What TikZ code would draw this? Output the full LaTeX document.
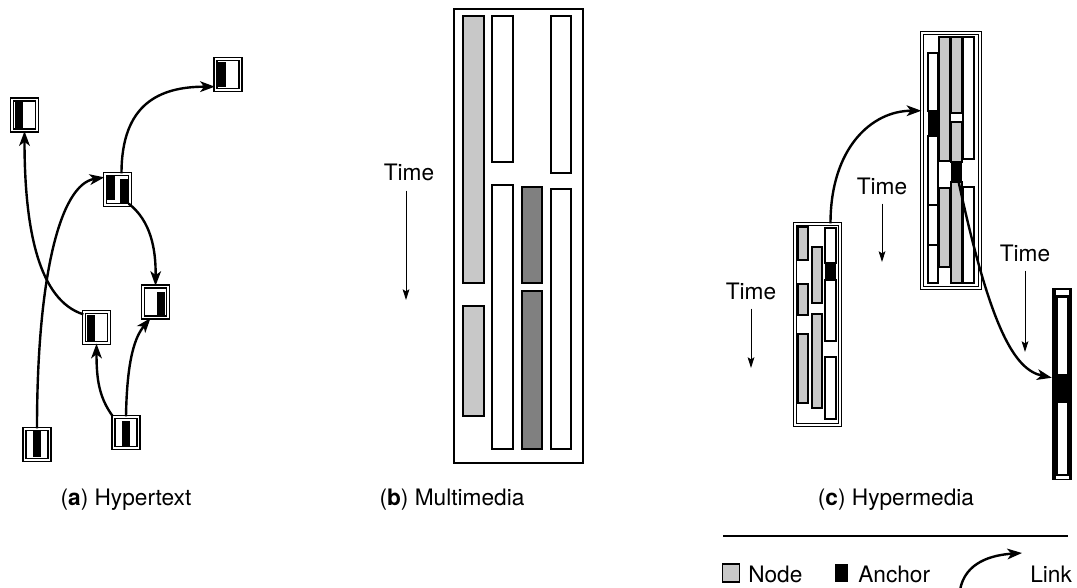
\documentclass[tikz,border=0pt]{standalone}
\usepackage{fontspec}
\setmainfont{TeX Gyre Heros}
\usetikzlibrary{arrows.meta,calc}
\definecolor{lgray}{HTML}{C8C8C8}
\definecolor{dgray}{HTML}{808080}
\begin{document}
\begin{tikzpicture}[x=0.75pt,y=-0.75pt,
  every node/.style={font=\fontsize{17}{20}\selectfont, inner sep=0pt},
  abox/.style={draw, line width=1pt, double, double distance=1.2pt, minimum width=18.75pt, minimum height=23.25pt},
  link/.style={line width=1.8pt, -{Stealth[length=11pt,width=8pt,inset=3pt]}},
  tarrow/.style={line width=0.75pt, -{Stealth[length=8pt,width=5pt,inset=1.5pt]}},
  mbox/.style={draw, line width=1.6pt},
  cbox/.style={draw, line width=1.1pt},
  cframe/.style={draw, line width=1pt, double, double distance=1.2pt}
]
\useasboundingbox (0,0) rectangle (1077,588);

% ---------------- (a) Hypertext ----------------
\node[abox] (A1) at (24.5,115) {};
\node[abox] (A2) at (228,74.5) {};
\node[abox] (A3) at (117.5,189.5) {};
\node[abox] (A4) at (155.5,302) {};
\node[abox] (A5) at (96.5,327.5) {};
\node[abox] (A6) at (37,444.5) {};
\node[abox] (A7) at (126,432.5) {};
\fill (15,102) rectangle (23,128);
\fill (218,62) rectangle (226,87);
\fill (107,176) rectangle (115,200);
\fill (120,179) rectangle (128,204);
\fill (157,292) rectangle (165,316);
\fill (87,315) rectangle (95,341);
\fill (33,431) rectangle (41,457);
\fill (122,421) rectangle (130,447);

\draw[link] (A6.north) .. controls +(0,-149) and +(-45,7) .. ([shift={(0,4)}]A3.north west);
\draw[link] ([shift={(0,3)}]A5.north west) .. controls +(-44,-14) and +(0,100) .. (A1.south);
\draw[link] ([shift={(4,0)}]A3.north) .. controls +(0,-69) and +(-56,0) .. ([shift={(0,-4)}]A2.south west);
\draw[link] ([shift={(-2,-2)}]A3.south east) .. controls +(22,17) and +(0.5,-37) .. (A4.north);
\draw[link] (A7.north west) .. controls +(-14,-19) and +(0,35) .. (A5.south);
\draw[link] (A7.north) .. controls +(1,-59) and +(-15,18) .. ([shift={(-5,0)}]A4.south);

\node (capa) at (126,500) {(\textbf{a}) Hypertext};

% ---------------- (b) Multimedia ----------------
\draw[line width=1.8pt] (454,9) rectangle (583,463);
\draw[mbox, fill=lgray] (463,16) rectangle (484,283);
\draw[mbox, fill=lgray] (463,306) rectangle (484,416);
\draw[mbox] (492,16) rectangle (513,162);
\draw[mbox] (492,185) rectangle (513,449);
\draw[mbox, fill=dgray] (522,187) rectangle (542,283);
\draw[mbox, fill=dgray] (522,291) rectangle (542,449);
\draw[mbox] (551,16) rectangle (571,173);
\draw[mbox] (551,189) rectangle (571,449);

\node (tb) at (409,172) {Time};
\coordinate (tbe) at (406,300);
\draw[tarrow] (tb.south -| tbe) ++(0,10) -- (tbe);

\node (capb) at (452,500) {(\textbf{b}) Multimedia};

% ---------------- (c) Hypermedia ----------------
% C1
\node[cframe, minimum width=33.75pt, minimum height=150.75pt] (c1) at (817.5,324.5) {};
\draw[cbox, fill=lgray] (798,227) rectangle (808,260);
\draw[cbox, fill=lgray] (798,284) rectangle (808,315);
\draw[cbox, fill=lgray] (798,334) rectangle (808,403);
\draw[cbox, fill=lgray] (812,247) rectangle (822,303);
\draw[cbox, fill=lgray] (812,314) rectangle (822,408);
\draw[cbox] (825,228) rectangle (836,263);
\draw[cbox] (825,280) rectangle (836,341);
\draw[cbox] (825,357) rectangle (836,419);
\node[fill=black, minimum width=8.25pt, minimum height=12.75pt] (c1a) at (830.5,271.5) {};

% C2
\node[cframe, minimum width=43.5pt, minimum height=191.25pt] (c2) at (951,160.5) {};
\draw[cbox] (928,53) rectangle (938,111);
\draw[cbox] (928,136) rectangle (938,205);
\draw[cbox] (928,205) rectangle (938,245);
\draw[cbox] (928,245) rectangle (938,283);
\node[fill=black, minimum width=7.5pt, minimum height=18.75pt] (c2a1) at (933,123.5) {};
\draw[cbox, fill=lgray] (939,37) rectangle (950,161);
\draw[cbox, fill=lgray] (939,188) rectangle (950,267);
\draw[cbox, fill=lgray] (951,37) rectangle (962,113);
\draw[cbox, fill=lgray] (951,122) rectangle (962,162);
\draw[cbox, fill=lgray] (951,182) rectangle (962,283);
\node[fill=black, minimum width=8.25pt, minimum height=15pt] (c2a2) at (956.5,172) {};
\draw[cbox] (963,37) rectangle (974,159);
\draw[cbox] (963,187) rectangle (974,283);

% C3
\node[fill=black, minimum width=15pt, minimum height=144pt] (c3) at (1062,384) {};
\fill[white] (1055.5,290) rectangle (1068.5,295);
\fill[white] (1057.5,298) rectangle (1067,374);
\fill[white] (1057.5,403) rectangle (1067,474);
\fill[white] (1055.5,476) rectangle (1068.5,478.5);
\node[fill=black, minimum width=7pt, minimum height=21.75pt] (c3a) at (1062,388.5) {};

\draw[link] (c1.north -| c1a) .. controls +(0,-75) and +(-50,0) .. (c2.west |- c2a1.north);
\draw[link] (c2a2.center) .. controls +(33.5,158) and +(-37,-8) .. ($(c3.west |- c3a.north)+(0,4)$);

\node (tc1) at (751,291) {Time};
\coordinate (tc1e) at (751,368);
\draw[tarrow] (tc1.south -| tc1e) ++(0,9) -- (tc1e);
\node (tc2) at (882,186) {Time};
\coordinate (tc2e) at (882,262);
\draw[tarrow] (tc2.south -| tc2e) ++(0,9) -- (tc2e);
\node (tc3) at (1025,253) {Time};
\coordinate (tc3e) at (1025,352);
\draw[tarrow] (tc3.south -| tc3e) ++(0,9) -- (tc3e);

\node (capc) at (896,500) {(\textbf{c}) Hypermedia};

% ---------------- Legend ----------------
\draw[line width=0.9pt] (723,536) -- (1068,536);
\node[draw, line width=1pt, fill=lgray, minimum width=12.5pt, minimum height=13.5pt] (lnode) at (731,573) {};
\node[anchor=west] (tnode) at (748,574) {Node};
\node[fill=black, minimum width=10pt, minimum height=14pt] (lanchor) at (841.5,573) {};
\node[anchor=west] (tanchor) at (858,574) {Anchor};
\coordinate (ls) at (960,590);
\coordinate (le) at (1022,553);
\draw[link] (ls) .. controls +(5,-28) and +(-30,2) .. (le);
\node[anchor=west] (tlink) at (1030,574) {Link};
\end{tikzpicture}
\end{document}
